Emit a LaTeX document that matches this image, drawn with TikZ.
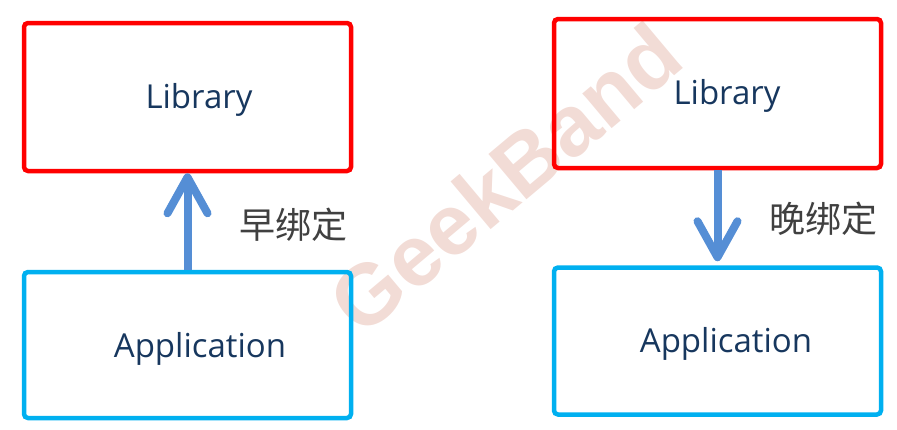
\documentclass[tikz,border=0pt]{standalone}
\usepackage{fontspec}
\setmainfont{Open Sans}
\newfontfamily\cjkfont{Noto Sans CJK SC}
\newfontfamily\markfont{Liberation Sans}
\usetikzlibrary{arrows.meta}
\definecolor{libred}{RGB}{255,0,0}
\definecolor{appblue}{RGB}{0,176,240}
\definecolor{arrowblue}{RGB}{85,142,213}
\definecolor{textnavy}{RGB}{23,55,94}
\definecolor{labelgray}{RGB}{64,64,64}
\definecolor{markpink}{RGB}{242,220,214}
\begin{document}
\begin{tikzpicture}[x=1pt,y=-1pt,
  box/.style={draw,line width=4.5pt,rounded corners=4pt,inner sep=0pt,minimum width=327pt},
  boxtext/.style={text=textnavy,font=\fontsize{33}{40}\selectfont,anchor=base,inner sep=0pt},
  bind/.style={line width=8pt,arrowblue,-{Straight Barb[length=36pt,width=40pt,round]}},
  bindtag/.style={text=labelgray,font=\cjkfont\fontsize{36}{40}\selectfont,inner sep=0pt}]
\useasboundingbox (0,0) rectangle (897,429);
\node[rotate=40,text=markpink,font=\markfont\bfseries\fontsize{86}{90}\selectfont] (mark) at (505,178) {GeekBand};

\node[box,libred,minimum height=148pt] (libL) at (187.5,97) {};
\node[box,appblue,minimum height=146pt] (appL) at (187.5,345) {};
\node[box,libred,minimum height=149pt] (libR) at (717.5,93.5) {};
\node[box,appblue,minimum height=147pt] (appR) at (717.5,341) {};

\node[boxtext] (libLtext) at (199,108) {Library};
\node[boxtext] (appLtext) at (200,357) {Application};
\node[boxtext] (libRtext) at (727,104) {Library};
\node[boxtext] (appRtext) at (726,352) {Application};

\draw[bind] (appL.north) -- (libL.south);
\draw[bind,shorten >=4pt] (libR.south) -- (appR.north);

\node[bindtag] (early) at (293,225) {早绑定};
\node[bindtag] (late) at (823,219) {晚绑定};
\end{tikzpicture}
\end{document}
